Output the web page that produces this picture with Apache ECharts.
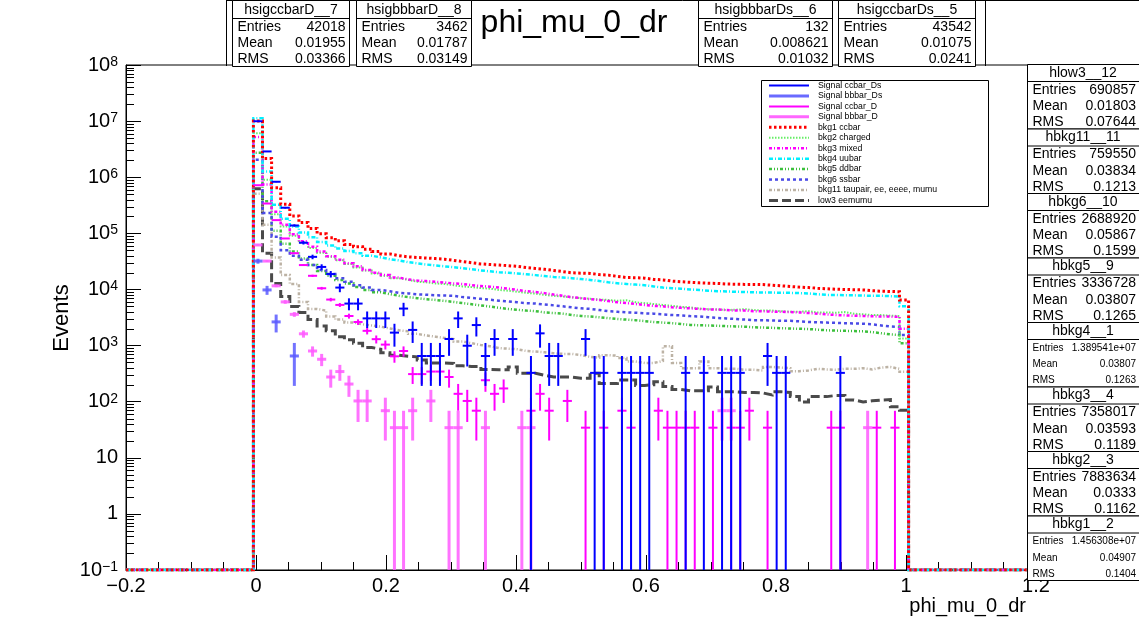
<!DOCTYPE html>
<html><head><meta charset="utf-8">
<script src="https://cdn.jsdelivr.net/npm/echarts@6/dist/echarts.min.js"></script>
<style>html,body{margin:0;padding:0;background:#fff}#c{width:1139px;height:620px}</style>
</head><body><div id="c"></div>
<script>
// ---- histogram binning (100 bins over [-0.2,1.2]; non-empty bins start at -0.004) ----
const histMin = -0.004, binWidth = 0.014;
const xMin = -0.2, xMax = 1.2, yMin = 0.1, yMax = 1e8;

// ---- background histograms (72 non-empty bins each) ----
const bkg1_ccbar = [1.0e7,2.15e6,6.5e5,3.3e5,2.04e5,1.56e5,1.22e5,9.8e4,8.3e4,7.35e4,
 6.35e4,5.77e4,5.2e4,4.74e4,4.3e4,4.0e4,3.81e4,3.72e4,3.63e4,3.55e4,
 3.46e4,3.3e4,3.14e4,2.99e4,2.85e4,2.78e4,2.72e4,2.65e4,2.58e4,2.46e4,
 2.37e4,2.29e4,2.18e4,2.08e4,1.98e4,1.95e4,1.93e4,1.84e4,1.8e4,1.71e4,
 1.63e4,1.62e4,1.59e4,1.51e4,1.48e4,1.41e4,1.37e4,1.34e4,1.31e4,1.29e4,
 1.28e4,1.25e4,1.24e4,1.23e4,1.23e4,1.22e4,1.19e4,1.16e4,1.13e4,1.1e4,
 1.08e4,1.05e4,1.03e4,1.01e4,1.0e4,9.9e3,9.8e3,9.5e3,9.3e3,9.2e3,
 9.1e3,6.5e3];
const bkg2_charged = [6.1e6,9.0e5,2.19e5,1.32e5,9.1e4,6.8e4,5.5e4,4.5e4,3.81e4,3.3e4,
 2.85e4,2.46e4,2.18e4,1.93e4,1.75e4,1.59e4,1.48e4,1.37e4,1.34e4,1.28e4,
 1.25e4,1.19e4,1.13e4,1.1e4,1.06e4,1.03e4,9.8e3,9.5e3,9.1e3,8.7e3,
 8.4e3,8.0e3,7.7e3,7.5e3,7.2e3,7.0e3,6.8e3,6.6e3,6.5e3,6.3e3,
 6.4e3,5.9e3,5.7e3,5.5e3,5.3e3,5.1e3,4.9e3,4.8e3,4.55e3,4.45e3,
 4.4e3,4.3e3,4.35e3,4.45e3,4.3e3,4.2e3,4.2e3,4.1e3,4.0e3,4.0e3,
 4.1e3,3.9e3,3.9e3,3.85e3,3.95e3,3.7e3,3.6e3,3.5e3,3.5e3,3.4e3,
 3.36e3,1.33e3];
const bkg3_mixed = [5.2e6,7.4e5,2.42e5,1.42e5,9.6e4,7.2e4,5.77e4,4.74e4,3.91e4,3.38e4,
 2.92e4,2.58e4,2.23e4,1.98e4,1.8e4,1.63e4,1.51e4,1.44e4,1.41e4,1.37e4,
 1.33e4,1.28e4,1.25e4,1.19e4,1.15e4,1.12e4,1.08e4,1.03e4,9.8e3,9.3e3,
 9.0e3,8.6e3,8.1e3,7.7e3,7.3e3,7.0e3,6.7e3,6.5e3,6.2e3,5.9e3,
 5.7e3,5.5e3,5.3e3,5.1e3,5.0e3,4.8e3,4.7e3,4.6e3,4.5e3,4.4e3,
 4.4e3,4.3e3,4.2e3,4.2e3,4.1e3,4.1e3,4.0e3,4.0e3,3.95e3,3.9e3,
 3.8e3,3.7e3,3.6e3,3.5e3,3.45e3,3.4e3,3.36e3,3.32e3,3.3e3,3.28e3,
 3.24e3,2.0e3];
const bkg4_uubar = [1.12e7,1.26e6,3.24e5,1.81e5,1.32e5,1.03e5,8.5e4,7.0e4,6.05e4,5.36e4,
 4.86e4,4.42e4,4.0e4,3.72e4,3.46e4,3.3e4,3.06e4,2.92e4,2.78e4,2.68e4,
 2.58e4,2.49e4,2.4e4,2.29e4,2.18e4,2.1e4,2.03e4,1.98e4,1.93e4,1.86e4,
 1.8e4,1.73e4,1.67e4,1.63e4,1.59e4,1.53e4,1.48e4,1.41e4,1.34e4,1.29e4,
 1.25e4,1.22e4,1.19e4,1.13e4,1.08e4,1.05e4,1.03e4,1.0e4,9.8e3,9.5e3,
 9.3e3,9.2e3,9.1e3,9.0e3,8.9e3,8.8e3,8.8e3,8.7e3,8.7e3,8.6e3,
 8.5e3,8.2e3,8.0e3,8.0e3,7.9e3,7.85e3,7.8e3,7.7e3,7.7e3,7.6e3,
 7.5e3,5.0e3];
const bkg5_ddbar = [2.74e6,3.74e5,1.11e5,6.5e4,4.74e4,3.55e4,2.72e4,2.13e4,1.75e4,1.48e4,
 1.28e4,1.1e4,9.8e3,8.9e3,8.25e3,7.7e3,7.3e3,7.0e3,6.7e3,6.5e3,
 6.25e3,6.0e3,5.7e3,5.45e3,5.2e3,4.95e3,4.7e3,4.5e3,4.35e3,4.2e3,
 4.1e3,3.9e3,3.8e3,3.7e3,3.5e3,3.36e3,3.3e3,3.2e3,3.08e3,2.97e3,
 2.9e3,2.83e3,2.73e3,2.63e3,2.57e3,2.5e3,2.42e3,2.33e3,2.3e3,2.28e3,
 2.25e3,2.22e3,2.19e3,2.17e3,2.12e3,2.09e3,2.07e3,2.04e3,2.01e3,1.99e3,
 1.97e3,1.92e3,1.87e3,1.85e3,1.83e3,1.81e3,1.79e3,1.74e3,1.66e3,1.58e3,
 1.54e3,1.1e3];
const bkg6_ssbar = [2.05e6,2.3e5,8.7e4,5.0e4,4.0e4,3.38e4,2.72e4,2.23e4,1.88e4,1.59e4,
 1.37e4,1.19e4,1.08e4,9.8e3,9.3e3,8.7e3,8.5e3,8.2e3,8.05e3,7.85e3,
 7.8e3,7.7e3,7.3e3,7.05e3,6.8e3,6.55e3,6.3e3,6.1e3,5.9e3,5.7e3,
 5.6e3,5.4e3,5.2e3,5.0e3,4.8e3,4.6e3,4.5e3,4.3e3,4.1e3,4.0e3,
 3.9e3,3.85e3,3.75e3,3.7e3,3.6e3,3.5e3,3.45e3,3.35e3,3.3e3,3.2e3,
 3.1e3,3.05e3,2.97e3,2.9e3,2.83e3,2.83e3,2.8e3,2.76e3,2.76e3,2.7e3,
 2.63e3,2.6e3,2.57e3,2.54e3,2.5e3,2.48e3,2.45e3,2.39e3,2.28e3,2.19e3,
 2.14e3,1.54e3];
const bkg11_taupair = [5.1e5,1.42e5,3.72e4,1.8e4,1.25e4,6.0e3,4.5e3,4.2e3,3.3e3,2.9e3,
 2.57e3,2.39e3,2.28e3,2.17e3,2.01e3,1.87e3,1.79e3,1.62e3,1.51e3,1.44e3,
 1.37e3,1.3e3,1.18e3,1.1e3,1.02e3,970,900,880,860,800,
 780,760,730,710,710,675,630,610,675,660,
 600,520,490,490,530,970,490,395,395,520,
 395,385,385,370,370,360,415,405,395,350,
 360,385,375,370,385,385,395,375,405,415,
 385,340];
const low3_eemumu = [6.2e5,4.42e4,1.28e4,7.5e3,4.95e3,3.9e3,2.9e3,2.22e3,1.83e3,1.44e3,
 1.27e3,1.1e3,925,860,745,675,645,630,555,490,
 490,480,435,425,425,375,370,370,415,320,
 320,295,275,275,275,262,262,320,210,210,
 243,243,195,200,226,186,165,157,157,157,
 182,150,150,146,146,143,132,150,146,123,
 99,123,123,129,129,107,99,104,107,109,
 81,70];

// ---- signal histograms (weighted; null = empty bin) ----
const wDs = 326, wD = 34.4;   // per-event weights
const N = null;
const sig_ccbar_Ds = [9.95e6,2.88e6,8.3e5,2.86e5,1.38e5,6.8e4,3.81e4,2.52e4,1.88e4,1.08e4,
 5.6e3,5.6e3,3.05e3,3.05e3,3.05e3,1.7e3,4.56e3,1.9e3,652,652,
 652,1.31e3,3.05e3,993,2.32e3,652,1.31e3,N,1.31e3,N,
 326,1.65e3,652,652,N,N,1.31e3,326,326,N,
 326,326,326,326,N,N,N,326,N,326,
 N,326,326,326,N,N,652,326,326,N,
 N,N,N,N,326,N,N,N,N,N,
 N,N];
const sig_bbbar_Ds = [3.2e4,9.8e3,2.64e3,N,652,N,N,N,N,N,
 N,N,N,N,N,N,N,N,N,N,N,N,N,N,N,N,N,N,N,N,
 N,N,N,N,N,N,N,N,N,N,N,N,N,N,N,N,N,N,N,N,
 N,N,N,N,N,N,N,N,N,N,N,N,N,N,N,N,N,N,N,N,N,N];
const sig_ccbar_D = [7.2e5,3.4e5,1.72e5,8.1e4,4.42e4,2.72e4,1.75e4,1.05e4,6.6e3,5.3e3,
 3.36e3,2.63e3,1.83e3,1.3e3,1.04e3,643,800,310,310,344,
 344,275,138,103,69,241,138,172,N,N,
 69,138,69,N,103,N,34.4,N,34.4,N,
 69,34.4,N,N,69,34.4,34.4,34.4,34.4,N,
 34.4,N,34.4,34.4,69,N,34.4,N,N,N,
 N,N,N,34.4,34.4,N,N,N,34.4,N,
 34.4,N];
const sig_bbbar_D = [6.2e4,3.2e4,1.16e4,6.0e3,3.6e3,1.62e3,800,570,275,344,
 206,103,103,N,69,34.4,34.4,69,N,103,
 N,34.4,34.4,N,N,34.4,N,N,N,34.4,
 34.4,N,N,N,N,N,N,N,N,N,
 N,N,N,N,N,N,N,N,N,N,
 N,69,69,N,N,N,N,N,N,N,
 N,N,N,N,N,N,N,34.4,N,N,
 N,N];

// ---- text content ----
const legendLabels = ['Signal ccbar_Ds','Signal bbbar_Ds','Signal ccbar_D','Signal bbbar_D',
 'bkg1 ccbar','bkg2 charged','bkg3 mixed','bkg4 uubar','bkg5 ddbar','bkg6 ssbar',
 'bkg11 taupair, ee, eeee, mumu','low3 eemumu'];
const topStatNames = ['hsigccbarD__7','hsigbbbarD__8','hsigbbbarDs__6','hsigccbarDs__5'];
const topStatEntries = ['42018','3462','132','43542'];
const topStatMeans = ['0.01955','0.01787','0.008621','0.01075'];
const topStatRms = ['0.03366','0.03149','0.01032','0.0241'];
const sideStatNames = ['hlow3__12','hbkg11__11','hbkg6__10','hbkg5__9','hbkg4__1','hbkg3__4','hbkg2__3','hbkg1__2'];
const sideStatEntries = ['690857','759550','2688920','3336728','1.389541e+07','7358017','7883634','1.456308e+07'];
const sideStatMeans = ['0.01803','0.03834','0.05867','0.03807','0.03807','0.03593','0.0333','0.04907'];
const sideStatRms = ['0.07644','0.1213','0.1599','0.1265','0.1263','0.1189','0.1162','0.1404'];
const sideStatSmall = [false,false,false,false,true,false,false,true];

// ---- styles ----
const FONT = '"Liberation Sans", Arial, Helvetica, sans-serif';
const bkgDefs = [
 {name:'low3 eemumu', data:low3_eemumu, color:'#4a4a4a', width:3, dash:[9,4]},
 {name:'bkg11 taupair, ee, eeee, mumu', data:bkg11_taupair, color:'#bcb2a4', width:2.5, dash:[3,2,1,2]},
 {name:'bkg5 ddbar', data:bkg5_ddbar, color:'#3cc03c', width:2.5, dash:[3,2,1,2,1,2]},
 {name:'bkg6 ssbar', data:bkg6_ssbar, color:'#4a4ae6', width:2.5, dash:[3,3]},
 {name:'bkg2 charged', data:bkg2_charged, color:'#66ee66', width:2, dash:[1.5,1.5]},
 {name:'bkg3 mixed', data:bkg3_mixed, color:'#ff00ff', width:2.5, dash:[3,2,1,2]},
 {name:'bkg4 uubar', data:bkg4_uubar, color:'#00f0ff', width:2.5, dash:[4,2,1,2]},
 {name:'bkg1 ccbar', data:bkg1_ccbar, color:'#ff0000', width:3, dash:[2.5,2.5]}
];
const sigDefs = [
 {name:'Signal bbbar_D', data:sig_bbbar_D, w:wD, color:'rgba(255,90,255,0.85)', width:3},
 {name:'Signal ccbar_D', data:sig_ccbar_D, w:wD, color:'#ff00ff', width:2},
 {name:'Signal bbbar_Ds', data:sig_bbbar_Ds, w:wDs, color:'rgba(90,90,255,0.85)', width:3},
 {name:'Signal ccbar_Ds', data:sig_ccbar_Ds, w:wDs, color:'#0000ff', width:2}
];
const legendStyles = {
 'Signal ccbar_Ds':{color:'#0000ff',width:2,dash:null},
 'Signal bbbar_Ds':{color:'#6a6aff',width:3,dash:null},
 'Signal ccbar_D':{color:'#ff00ff',width:2,dash:null},
 'Signal bbbar_D':{color:'#ff66ff',width:3,dash:null}
};
bkgDefs.forEach(d=>{legendStyles[d.name]={color:d.color,width:d.width,dash:d.dash};});

function stepPoints(vals){
  const pts=[[xMin,yMin]];
  vals.forEach((v,i)=>pts.push([histMin+i*binWidth, v]));
  const end = histMin+vals.length*binWidth;
  pts.push([end,yMin]); pts.push([xMax,yMin]);
  return pts;
}

const series = [];
bkgDefs.forEach((d,k)=>{
  series.push({type:'line', name:d.name, data:stepPoints(d.data), step:'end', symbol:'none',
    clip:true, silent:true, z:2+k*0.01,
    lineStyle:{color:d.color, width:d.width, type:d.dash, cap:'butt', join:'miter'}});
});
sigDefs.forEach((d,k)=>{
  const data=[];
  d.data.forEach((v,i)=>{ if(v!==null) data.push([histMin+(i+0.5)*binWidth, v, Math.sqrt(v*d.w)]); });
  series.push({type:'custom', name:d.name, data, z:3+k*0.01, silent:true, clip:true,
    encode:{x:0,y:1},
    renderItem(params, api){
      const x=api.value(0), v=api.value(1), e=api.value(2);
      const c=api.coord([x,v]);
      const l=api.coord([x-binWidth/2,v]), r=api.coord([x+binWidth/2,v]);
      const t=api.coord([x,v+e]);
      const lo=v-e; const b=api.coord([x, lo>yMin?lo:yMin]);
      const st={stroke:d.color, lineWidth:d.width};
      return {type:'group', children:[
        {type:'line', shape:{x1:l[0],y1:c[1],x2:r[0],y2:c[1]}, style:st},
        {type:'line', shape:{x1:c[0],y1:t[1],x2:c[0],y2:b[1]}, style:st}
      ]};
    }});
});
// minor log ticks on the y axis (2..9 x 10^n)
const minorTickVals=[];
for(let d=-1; d<8; d++) for(let m=2;m<=9;m++) minorTickVals.push([xMin, m*Math.pow(10,d)]);
series.push({type:'custom', name:'minorTicks', data:minorTickVals, silent:true, z:5,
  encode:{x:0,y:1},
  renderItem(params, api){
    const p=api.coord([api.value(0), api.value(1)]);
    return {type:'line', shape:{x1:p[0],y1:Math.round(p[1])+0.5,x2:p[0]+8,y2:Math.round(p[1])+0.5}, style:{stroke:'#000',lineWidth:1}};
  }});

// ---- graphic: title, stat boxes, legend, axis titles ----
const G = [];
function txt(x,y,text,size,align,valign,extra){
  return Object.assign({type:'text', z:100, silent:true, style:{x,y,text,fill:'#000',
    font:size+'px '+FONT, fontSize:size, fontFamily:FONT,
    textAlign:align, align:align, textVerticalAlign:valign, verticalAlign:valign}}, extra||{});
}
function rect(x,y,w,h){ return {type:'rect', z:99, silent:true, shape:{x,y,width:w,height:h}, style:{fill:'#fff',stroke:'#000',lineWidth:1}}; }
function hline(x1,x2,y){ return {type:'line', z:100, silent:true, shape:{x1,y1:y,x2,y2:y}, style:{stroke:'#000',lineWidth:1}}; }

// background frame of top stat area
G.push({type:'line', z:98, silent:true, shape:{x1:226.5,y1:0.5,x2:1139,y2:0.5}, style:{stroke:'#000',lineWidth:1}});
G.push({type:'line', z:98, silent:true, shape:{x1:226.5,y1:0,x2:226.5,y2:66}, style:{stroke:'#000',lineWidth:1}});
G.push({type:'line', z:98, silent:true, shape:{x1:985.5,y1:0,x2:985.5,y2:66}, style:{stroke:'#000',lineWidth:1}});

const topBoxX = [[232.5,349.5],[356.5,471.5],[698.5,832.5],[838.5,975.5]];
topStatNames.forEach((nm,i)=>{
  const [x1,x2]=topBoxX[i];
  G.push(rect(x1,0.5,x2-x1,66));
  G.push(hline(x1,x2,18.5));
  G.push(txt((x1+x2)/2,10,nm,14,'center','middle'));
  const rows=[['Entries',topStatEntries[i]],['Mean',topStatMeans[i]],['RMS',topStatRms[i]]];
  rows.forEach((r,j)=>{
    const y=27+j*16;
    G.push(txt(x1+5,y,r[0],14,'left','middle'));
    G.push(txt(x2-4,y,r[1],14,'right','middle'));
  });
});
G.push(txt(574,23,'phi_mu_0_dr',32,'center','middle'));

// right stat boxes
sideStatNames.forEach((nm,i)=>{
  const top=64.5+i*64.5, x1=1027.5, x2=1145;
  G.push(rect(x1,top,x2-x1,64.5));
  G.push(hline(x1,x2,top+17));
  G.push(txt(1083,top+8.5,nm,14,'center','middle'));
  const sz = sideStatSmall[i]?10:14;
  const rows=[['Entries',sideStatEntries[i]],['Mean',sideStatMeans[i]],['RMS',sideStatRms[i]]];
  rows.forEach((r,j)=>{
    const y=top+25.5+j*16.3;
    G.push(txt(x1+5,y,r[0],sz,'left','middle'));
    G.push(txt(1136,y,r[1],sz,'right','middle'));
  });
});

// legend box
G.push(rect(761.5,80.5,227,126));
legendLabels.forEach((lab,i)=>{
  const y=85.5+i*10.45;
  const s=legendStyles[lab];
  G.push({type:'line', z:100, silent:true, shape:{x1:769,y1:y,x2:809,y2:y},
    style:{stroke:s.color,lineWidth:s.width,lineDash:s.dash||null}});
  G.push(txt(818,y,lab,8.7,'left','middle'));
});

// axis titles
G.push(txt(62,318,'Events',22,'center','middle',{rotation:Math.PI/2, x:62, y:318, style:{x:0,y:0,text:'Events',fill:'#000',font:'22px '+FONT,fontSize:22,fontFamily:FONT,textAlign:'center',align:'center',textVerticalAlign:'middle',verticalAlign:'middle'}}));
G.push(txt(1026,606,'phi_mu_0_dr',20,'right','middle'));

const chart = echarts.init(document.getElementById('c'), null, {renderer:'canvas'});
chart.setOption({
  animation:false,
  backgroundColor:'#fff',
  grid:{left:126, right:103, top:65, bottom:50, show:true, borderColor:'#000', borderWidth:1, backgroundColor:'transparent', containLabel:false},
  xAxis:{type:'value', min:xMin, max:xMax, interval:0.2,
    axisLine:{show:true, onZero:false, lineStyle:{color:'#000',width:1}},
    axisTick:{show:true, inside:true, length:15, lineStyle:{color:'#000'}},
    minorTick:{show:true, splitNumber:4, length:8, lineStyle:{color:'#000'}},
    splitLine:{show:false}, minorSplitLine:{show:false},
    axisLabel:{color:'#000', fontSize:20, fontFamily:FONT, margin:6,
      formatter:v=>{const s=(Math.round(v*10)/10).toString(); return s.replace('-','\u2212');}}},
  yAxis:{type:'log', logBase:10, min:yMin, max:yMax, splitNumber:9,
    axisLine:{show:true, onZero:false, lineStyle:{color:'#000',width:1}},
    axisTick:{show:true, inside:true, length:15, lineStyle:{color:'#000'}},
    splitLine:{show:false},
    axisLabel:{color:'#000', margin:8, fontFamily:FONT,
      formatter:v=>{const e=Math.round(Math.log10(v));
        if(e===0) return '{b|1}'; if(e===1) return '{b|10}';
        return '{b|10}{s|'+String(e).replace('-','\u2212')+'}';},
      rich:{b:{fontSize:20, fontFamily:FONT, color:'#000', lineHeight:20, padding:[8,0,0,0], verticalAlign:'bottom'},
            s:{fontSize:14, fontFamily:FONT, color:'#000', lineHeight:14, verticalAlign:'top'}}}},
  series,
  graphic:G
});
</script></body></html>
